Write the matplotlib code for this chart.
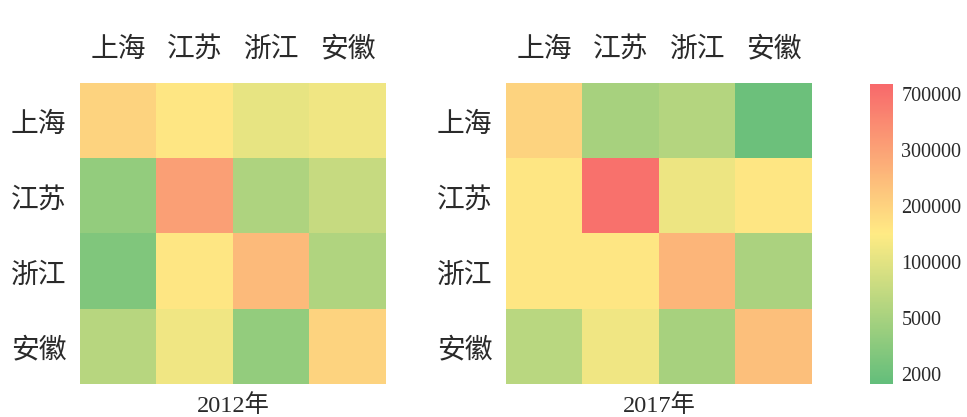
import numpy as np
import matplotlib
matplotlib.use("Agg")
import matplotlib.pyplot as plt
from matplotlib.colors import LinearSegmentedColormap, Normalize

provinces = ["上海", "江苏", "浙江", "安徽"]
years = ["2012年", "2017年"]

values_2012 = [
    [200000, 160000, 110000, 125000],
    [4000, 320000, 18000, 55000],
    [3000, 160000, 250000, 20000],
    [32000, 125000, 4000, 200000],
]
values_2017 = [
    [200000, 6000, 28000, 2000],
    [160000, 700000, 120000, 160000],
    [160000, 160000, 260000, 12000],
    [35000, 125000, 6000, 240000],
]
cbar_ticks = [2000, 5000, 100000, 200000, 300000, 700000]

W, H = 967, 417
fig = plt.figure(figsize=(W / 100, H / 100), dpi=100)

cmap = LinearSegmentedColormap.from_list("gyr", ["#63BE7B", "#FFEB84", "#F8696B"])
tick_pos = np.arange(len(cbar_ticks))
ext = 0.18
norm = Normalize(vmin=-ext, vmax=tick_pos[-1] + ext)

cjk = ["Noto Sans CJK SC", "DejaVu Sans"]
serif_cjk = ["Liberation Serif", "Noto Sans CJK SC"]
txt_color = "#2a2a2a"

def px_rect(x0, y0, x1, y1):
    return [x0 / W, (H - y1) / H, (x1 - x0) / W, (y1 - y0) / H]

lefts = [80, 506]
im = None
for k, (vals, yr) in enumerate(zip([values_2012, values_2017], years)):
    ax = fig.add_axes(px_rect(lefts[k], 83, lefts[k] + 306, 384))
    idx = np.interp(np.asarray(vals, dtype=float), cbar_ticks, tick_pos)
    im = ax.imshow(idx, cmap=cmap, norm=norm, aspect="auto")
    ax.xaxis.tick_top()
    ax.set_xticks(range(len(provinces)))
    ax.set_xticklabels(provinces, family=cjk, fontsize=20, color=txt_color)
    ax.set_yticks(range(len(provinces)))
    ax.set_yticklabels(provinces, family=cjk, fontsize=20, color=txt_color)
    ax.tick_params(length=0, pad=10)
    ax.tick_params(axis="x", pad=14)
    for s in ax.spines.values():
        s.set_visible(False)
    ax.text(0.5, -0.072, yr, transform=ax.transAxes, ha="center", va="center",
            family=serif_cjk, fontsize=17.5, color=txt_color)

cax = fig.add_axes(px_rect(870, 84, 893, 384))
cb = fig.colorbar(im, cax=cax)
cb.set_ticks(tick_pos)
cb.set_ticklabels([str(t) for t in cbar_ticks])
cb.outline.set_visible(False)
cax.tick_params(length=0, pad=6, labelsize=14.5, labelcolor=txt_color)
for lab in cax.get_yticklabels():
    lab.set_family("Liberation Serif")

fig.savefig("out.png", dpi=100)
